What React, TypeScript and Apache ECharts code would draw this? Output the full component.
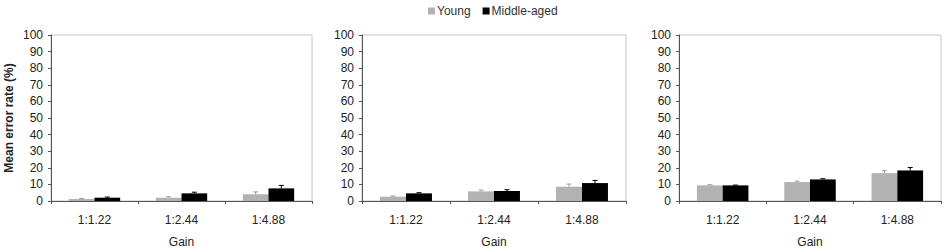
import React, { useEffect, useRef } from "react";
import * as echarts from "echarts";

const categories = ["1:1.22", "1:2.44", "1:4.88"];
const seriesNames = ["Young", "Middle-aged"];
const yTicks = [0, 100, 10]; // min, max, interval

const p1Young = [1.2, 2.0, 4.0];
const p1YoungErr = [0.3, 0.6, 1.5];
const p1Middle = [2.0, 4.6, 7.6];
const p1MiddleErr = [0.4, 0.7, 1.8];

const p2Young = [2.6, 5.8, 8.6];
const p2YoungErr = [0.4, 0.8, 1.6];
const p2Middle = [4.6, 6.0, 10.8];
const p2MiddleErr = [0.4, 0.8, 1.6];

const p3Young = [9.4, 11.4, 16.8];
const p3YoungErr = [0.4, 0.6, 1.4];
const p3Middle = [9.4, 13.0, 18.4];
const p3MiddleErr = [0.2, 0.4, 1.8];

const panels = [
  { young: p1Young, youngErr: p1YoungErr, middle: p1Middle, middleErr: p1MiddleErr },
  { young: p2Young, youngErr: p2YoungErr, middle: p2Middle, middleErr: p2MiddleErr },
  { young: p3Young, youngErr: p3YoungErr, middle: p3Middle, middleErr: p3MiddleErr },
];

const GRAY = "#b2b2b2";
const BLACK = "#000000";
const TEXT = "#222222";
const FONT = "'Liberation Sans', Arial, sans-serif";
const GAP = 0.41;

const grids = [
  { left: 51, top: 35, width: 261, height: 166 },
  { left: 362, top: 35, width: 264, height: 166 },
  { left: 679, top: 35, width: 262, height: 166 },
];

function errorSeries(idx: number, vals: number[], errs: number[], side: number, color: string) {
  return {
    type: "custom",
    xAxisIndex: idx,
    yAxisIndex: idx,
    silent: true,
    z: 5,
    data: vals.map((v, i) => [i, v, errs[i]]),
    encode: { x: 0, y: 1 },
    renderItem: (params: any, api: any) => {
      const i = api.value(0);
      const v = api.value(1);
      const e = api.value(2);
      const band = api.size([1, 0])[0];
      const barW = (band * (1 - GAP)) / 2;
      const base = api.coord([i, v]);
      const top = api.coord([i, v + e]);
      const x = base[0] + (side * barW) / 2;
      const cap = 2.5;
      return {
        type: "group",
        children: [
          {
            type: "line",
            shape: { x1: x, y1: base[1], x2: x, y2: top[1] },
            style: { stroke: color, lineWidth: 1 },
          },
          {
            type: "line",
            shape: { x1: x - cap, y1: top[1], x2: x + cap, y2: top[1] },
            style: { stroke: color, lineWidth: 1 },
          },
        ],
      };
    },
  };
}

export default function App() {
  const ref = useRef<HTMLDivElement>(null);
  useEffect(() => {
    if (!ref.current) return;
    const chart = echarts.init(ref.current, undefined, { renderer: "svg" });
    const series: any[] = [];
    panels.forEach((p, idx) => {
      series.push({
        name: seriesNames[0],
        type: "bar",
        xAxisIndex: idx,
        yAxisIndex: idx,
        data: p.young,
        itemStyle: { color: GRAY },
        barGap: "0%",
        barCategoryGap: GAP * 100 + "%",
      });
      series.push({
        name: seriesNames[1],
        type: "bar",
        xAxisIndex: idx,
        yAxisIndex: idx,
        data: p.middle,
        itemStyle: { color: BLACK },
        barGap: "0%",
        barCategoryGap: GAP * 100 + "%",
      });
      series.push(errorSeries(idx, p.young, p.youngErr, -1, "#9a9a9a"));
      series.push(errorSeries(idx, p.middle, p.middleErr, 1, BLACK));
    });
    chart.setOption({
      animation: false,
      textStyle: { fontFamily: FONT },
      legend: {
        data: seriesNames.map((n, i) => ({ name: n, itemStyle: { color: i === 0 ? GRAY : BLACK } })),
        top: 0,
        left: 423,
        icon: "rect",
        itemWidth: 7,
        itemHeight: 7,
        itemGap: 12,
        textStyle: { fontSize: 12, color: "#333", fontFamily: FONT, padding: [0, 0, 0, -3] },
      },
      grid: grids.map((g) => ({
        ...g,
        show: true,
        borderColor: "#c4c4c4",
        borderWidth: 1,
        backgroundColor: "transparent",
        containLabel: false,
        outerBoundsMode: "none",
      })),
      xAxis: grids.map((_, idx) => ({
        type: "category",
        gridIndex: idx,
        data: categories,
        name: "Gain",
        nameLocation: "middle",
        nameGap: 35,
        nameTextStyle: { fontSize: 12, color: TEXT, fontFamily: FONT },
        axisLine: { lineStyle: { color: "#555", width: 1 } },
        axisTick: { show: true, alignWithLabel: false, length: 3, lineStyle: { color: "#555" } },
        axisLabel: { fontSize: 12, color: TEXT, margin: 13, fontFamily: FONT },
      })),
      yAxis: grids.map((_, idx) => ({
        type: "value",
        gridIndex: idx,
        min: yTicks[0],
        max: yTicks[1],
        interval: yTicks[2],
        name: idx === 0 ? "Mean error rate (%)" : "",
        nameLocation: "middle",
        nameGap: 36,
        nameRotate: 90,
        nameTextStyle: { fontSize: 12, fontWeight: "bold", color: TEXT, fontFamily: FONT },
        axisLine: { show: true, lineStyle: { color: "#555", width: 1 } },
        axisTick: { show: true, length: 3, lineStyle: { color: "#555" } },
        splitLine: { show: false },
        axisLabel: { fontSize: 12, color: TEXT, margin: 8, fontFamily: FONT },
      })),
      series,
    });
    return () => chart.dispose();
  }, []);
  return (
    <div
      ref={ref}
      style={{ position: "absolute", left: 0, top: 0, width: 945, height: 252, background: "#fff" }}
    />
  );
}
